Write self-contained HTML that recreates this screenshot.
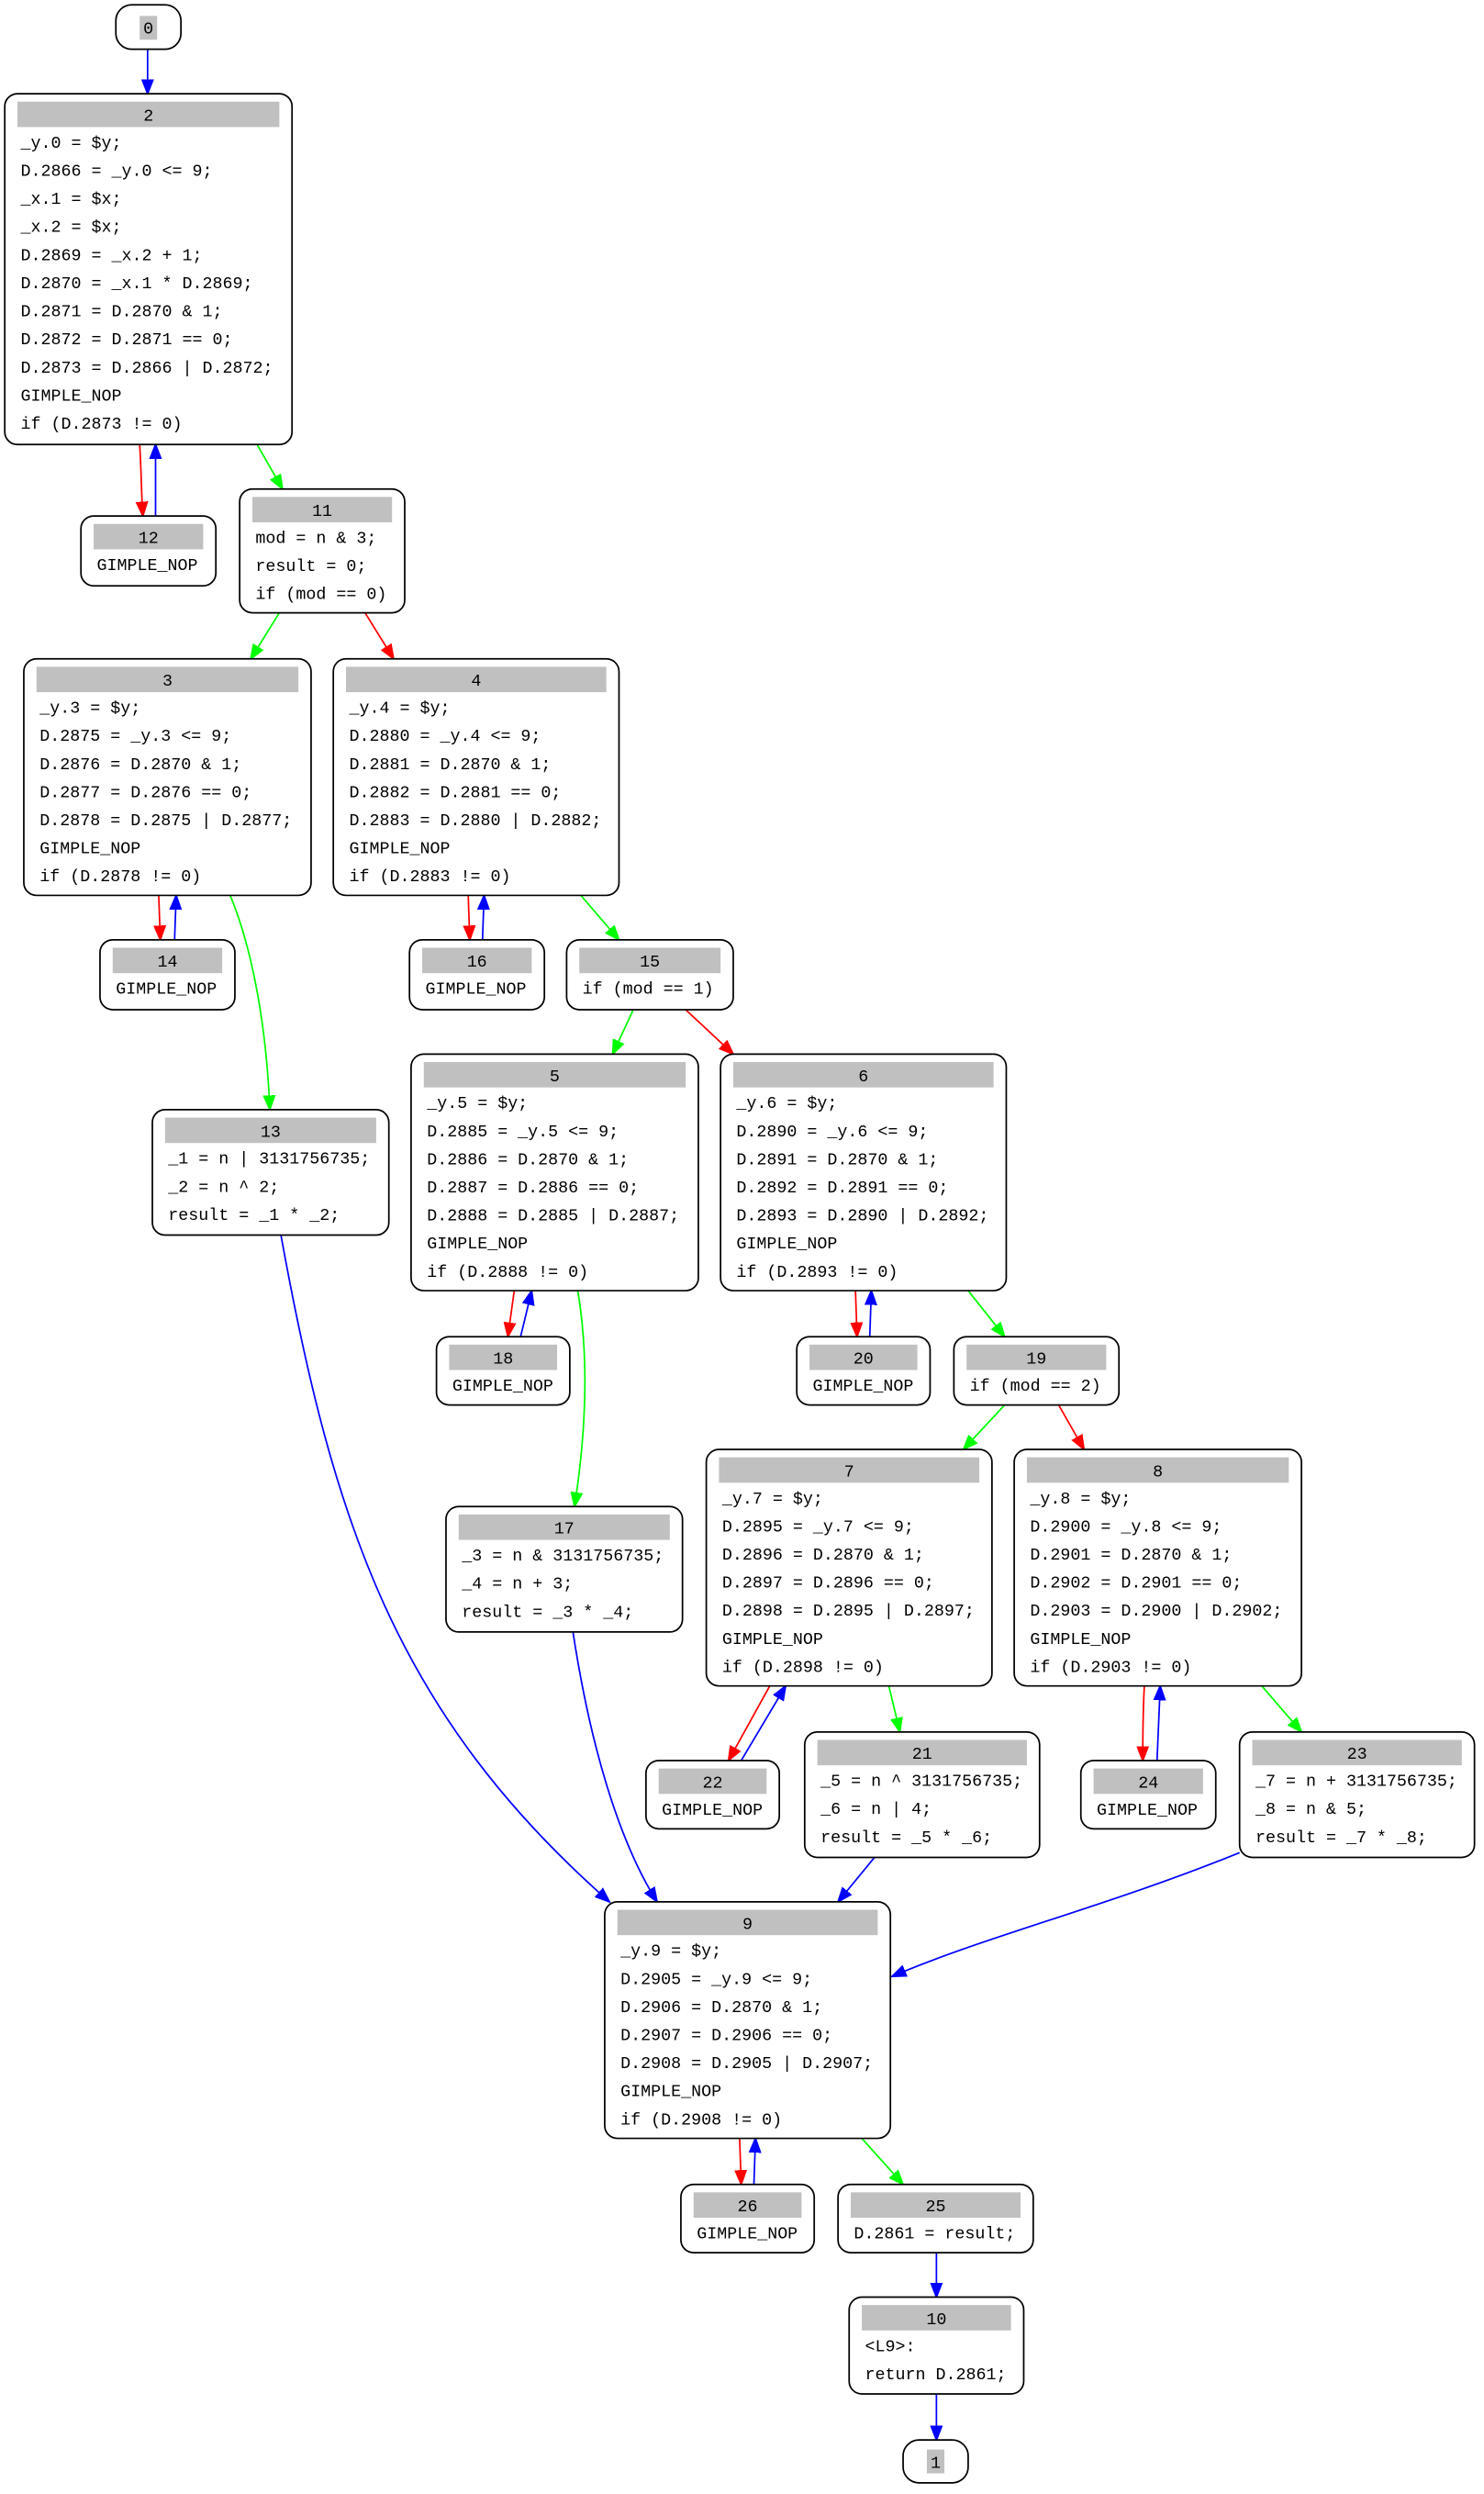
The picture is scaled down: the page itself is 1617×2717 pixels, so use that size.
<!DOCTYPE html>
<html><head><meta charset="utf-8"><style>
html,body{margin:0;padding:0;background:#fff;}
svg{display:block;}
text{font-family:"Liberation Mono",monospace;font-size:10.6px;fill:#000;}
.h{text-anchor:middle;}
rect.b{fill:#fff;stroke:#000;stroke-width:1;}
rect.g{fill:#c0c0c0;}
path{fill:none;stroke-width:1;}
</style></head><body>
<svg width="1617" height="2717" viewBox="0 0 935 1571" xmlns="http://www.w3.org/2000/svg">
<defs>
<marker id="ab" markerWidth="10" markerHeight="8" refX="9" refY="4" orient="auto" markerUnits="userSpaceOnUse"><path d="M0,0.5 L9,4 L0,7.5z" style="fill:#0000ff;stroke:#0000ff"/></marker>
<marker id="ar" markerWidth="10" markerHeight="8" refX="9" refY="4" orient="auto" markerUnits="userSpaceOnUse"><path d="M0,0.5 L9,4 L0,7.5z" style="fill:#ff0000;stroke:#ff0000"/></marker>
<marker id="ag" markerWidth="10" markerHeight="8" refX="9" refY="4" orient="auto" markerUnits="userSpaceOnUse"><path d="M0,0.5 L9,4 L0,7.5z" style="fill:#00ff00;stroke:#00ff00"/></marker>
</defs>

<!-- edges -->
<g>
<path d="M93,31 L93,59" stroke="#0000ff" marker-end="url(#ab)"/>
<path d="M88,280 C89,295 89,310 90,325" stroke="#ff0000" marker-end="url(#ar)"/>
<path d="M98,325 C98,310 98,295 98,280" stroke="#0000ff" marker-end="url(#ab)"/>
<path d="M162,280 L178,308" stroke="#00ff00" marker-end="url(#ag)"/>
<path d="M176,386 L158,415" stroke="#00ff00" marker-end="url(#ag)"/>
<path d="M230,386 L248,415" stroke="#ff0000" marker-end="url(#ar)"/>
<path d="M100,564 L101,592" stroke="#ff0000" marker-end="url(#ar)"/>
<path d="M110,592 L111,564" stroke="#0000ff" marker-end="url(#ab)"/>
<path d="M145,564 C160,600 168,650 170,699" stroke="#00ff00" marker-end="url(#ag)"/>
<path d="M295,564 L296,592" stroke="#ff0000" marker-end="url(#ar)"/>
<path d="M304,592 L305,564" stroke="#0000ff" marker-end="url(#ab)"/>
<path d="M366,564 L390,592" stroke="#00ff00" marker-end="url(#ag)"/>
<path d="M399,636 L386,664" stroke="#00ff00" marker-end="url(#ag)"/>
<path d="M432,636 L462,664" stroke="#ff0000" marker-end="url(#ar)"/>
<path d="M177,778 C210,960 250,1080 384,1198" stroke="#0000ff" marker-end="url(#ab)"/>
<path d="M324,813 L320,842" stroke="#ff0000" marker-end="url(#ar)"/>
<path d="M328,842 L335,813" stroke="#0000ff" marker-end="url(#ab)"/>
<path d="M364,813 C372,860 368,910 362,949" stroke="#00ff00" marker-end="url(#ag)"/>
<path d="M539,813 L540,842" stroke="#ff0000" marker-end="url(#ar)"/>
<path d="M548,842 L549,813" stroke="#0000ff" marker-end="url(#ab)"/>
<path d="M610,813 L633,842" stroke="#00ff00" marker-end="url(#ag)"/>
<path d="M633,885 L607,913" stroke="#00ff00" marker-end="url(#ag)"/>
<path d="M667,885 L683,913" stroke="#ff0000" marker-end="url(#ar)"/>
<path d="M361,1028 C372,1100 390,1160 414,1198" stroke="#0000ff" marker-end="url(#ab)"/>
<path d="M485,1062 L459,1109" stroke="#ff0000" marker-end="url(#ar)"/>
<path d="M467,1109 L495,1062" stroke="#0000ff" marker-end="url(#ab)"/>
<path d="M560,1062 L567,1091" stroke="#00ff00" marker-end="url(#ag)"/>
<path d="M721,1062 C720,1080 720,1095 720,1109" stroke="#ff0000" marker-end="url(#ar)"/>
<path d="M729,1109 L731,1062" stroke="#0000ff" marker-end="url(#ab)"/>
<path d="M795,1062 L820,1091" stroke="#00ff00" marker-end="url(#ag)"/>
<path d="M551,1170 L528,1198" stroke="#0000ff" marker-end="url(#ab)"/>
<path d="M781,1167 C700,1200 620,1220 562,1245" stroke="#0000ff" marker-end="url(#ab)"/>
<path d="M466,1347 L467,1376" stroke="#ff0000" marker-end="url(#ar)"/>
<path d="M475,1376 L476,1347" stroke="#0000ff" marker-end="url(#ab)"/>
<path d="M543,1347 L569,1376" stroke="#00ff00" marker-end="url(#ag)"/>
<path d="M590,1419 L590,1447" stroke="#0000ff" marker-end="url(#ab)"/>
<path d="M590,1508 L590,1537" stroke="#0000ff" marker-end="url(#ab)"/>
</g>

<!-- node 0 -->
<g transform="translate(73,3)"><rect class="b" x="0" y="0" width="41" height="28" rx="10"/><rect class="g" x="15" y="7" width="11" height="15"/><text class="h" x="20.5" y="18">0</text></g>
<!-- node 1 -->
<g transform="translate(569,1537)"><rect class="b" x="0" y="0" width="41" height="27" rx="10"/><rect class="g" x="15" y="6" width="11" height="15"/><text class="h" x="20.5" y="17.5">1</text></g>

<!-- node 2 -->
<g transform="translate(3,59)"><rect class="b" width="181" height="221" rx="8"/><rect class="g" x="8" y="5" width="165" height="16"/><text class="h" x="90.5" y="17">2</text>
<text x="10" y="34">_y.0 = $y;</text><text x="10" y="51.7">D.2866 = _y.0 &lt;= 9;</text><text x="10" y="69.4">_x.1 = $x;</text><text x="10" y="87.1">_x.2 = $x;</text><text x="10" y="104.8">D.2869 = _x.2 + 1;</text><text x="10" y="122.5">D.2870 = _x.1 * D.2869;</text><text x="10" y="140.2">D.2871 = D.2870 &amp; 1;</text><text x="10" y="157.9">D.2872 = D.2871 == 0;</text><text x="10" y="175.6">D.2873 = D.2866 | D.2872;</text><text x="10" y="193.3">GIMPLE_NOP</text><text x="10" y="211">if (D.2873 != 0)</text></g>

<!-- node 12 -->
<g transform="translate(51,325)"><rect class="b" width="85" height="44" rx="8"/><rect class="g" x="8" y="5" width="69" height="16"/><text class="h" x="42.5" y="17">12</text><text x="10" y="34">GIMPLE_NOP</text></g>
<!-- node 11 -->
<g transform="translate(151,308)"><rect class="b" width="104" height="78" rx="8"/><rect class="g" x="8" y="5" width="88" height="16"/><text class="h" x="52" y="17">11</text><text x="10" y="34">mod = n &amp; 3;</text><text x="10" y="51.7">result = 0;</text><text x="10" y="69.4">if (mod == 0)</text></g>

<!-- node 3 -->
<g transform="translate(15,415)"><rect class="b" width="181" height="149" rx="8"/><rect class="g" x="8" y="5" width="165" height="16"/><text class="h" x="90.5" y="17">3</text>
<text x="10" y="34">_y.3 = $y;</text><text x="10" y="51.7">D.2875 = _y.3 &lt;= 9;</text><text x="10" y="69.4">D.2876 = D.2870 &amp; 1;</text><text x="10" y="87.1">D.2877 = D.2876 == 0;</text><text x="10" y="104.8">D.2878 = D.2875 | D.2877;</text><text x="10" y="122.5">GIMPLE_NOP</text><text x="10" y="140.2">if (D.2878 != 0)</text></g>
<!-- node 4 -->
<g transform="translate(210,415)"><rect class="b" width="180" height="149" rx="8"/><rect class="g" x="8" y="5" width="164" height="16"/><text class="h" x="90" y="17">4</text>
<text x="10" y="34">_y.4 = $y;</text><text x="10" y="51.7">D.2880 = _y.4 &lt;= 9;</text><text x="10" y="69.4">D.2881 = D.2870 &amp; 1;</text><text x="10" y="87.1">D.2882 = D.2881 == 0;</text><text x="10" y="104.8">D.2883 = D.2880 | D.2882;</text><text x="10" y="122.5">GIMPLE_NOP</text><text x="10" y="140.2">if (D.2883 != 0)</text></g>

<!-- node 14 -->
<g transform="translate(63,592)"><rect class="b" width="85" height="44" rx="8"/><rect class="g" x="8" y="5" width="69" height="16"/><text class="h" x="42.5" y="17">14</text><text x="10" y="34">GIMPLE_NOP</text></g>
<!-- node 16 -->
<g transform="translate(258,592)"><rect class="b" width="85" height="44" rx="8"/><rect class="g" x="8" y="5" width="69" height="16"/><text class="h" x="42.5" y="17">16</text><text x="10" y="34">GIMPLE_NOP</text></g>
<!-- node 15 -->
<g transform="translate(357,592)"><rect class="b" width="105" height="44" rx="8"/><rect class="g" x="8" y="5" width="89" height="16"/><text class="h" x="52.5" y="17">15</text><text x="10" y="34">if (mod == 1)</text></g>

<!-- node 13 -->
<g transform="translate(96,699)"><rect class="b" width="149" height="79" rx="8"/><rect class="g" x="8" y="5" width="133" height="16"/><text class="h" x="74.5" y="17">13</text><text x="10" y="34">_1 = n | 3131756735;</text><text x="10" y="51.7">_2 = n ^ 2;</text><text x="10" y="69.4">result = _1 * _2;</text></g>

<!-- node 5 -->
<g transform="translate(259,664)"><rect class="b" width="181" height="149" rx="8"/><rect class="g" x="8" y="5" width="165" height="16"/><text class="h" x="90.5" y="17">5</text>
<text x="10" y="34">_y.5 = $y;</text><text x="10" y="51.7">D.2885 = _y.5 &lt;= 9;</text><text x="10" y="69.4">D.2886 = D.2870 &amp; 1;</text><text x="10" y="87.1">D.2887 = D.2886 == 0;</text><text x="10" y="104.8">D.2888 = D.2885 | D.2887;</text><text x="10" y="122.5">GIMPLE_NOP</text><text x="10" y="140.2">if (D.2888 != 0)</text></g>
<!-- node 6 -->
<g transform="translate(454,664)"><rect class="b" width="180" height="149" rx="8"/><rect class="g" x="8" y="5" width="164" height="16"/><text class="h" x="90" y="17">6</text>
<text x="10" y="34">_y.6 = $y;</text><text x="10" y="51.7">D.2890 = _y.6 &lt;= 9;</text><text x="10" y="69.4">D.2891 = D.2870 &amp; 1;</text><text x="10" y="87.1">D.2892 = D.2891 == 0;</text><text x="10" y="104.8">D.2893 = D.2890 | D.2892;</text><text x="10" y="122.5">GIMPLE_NOP</text><text x="10" y="140.2">if (D.2893 != 0)</text></g>

<!-- node 18 -->
<g transform="translate(275,842)"><rect class="b" width="84" height="43" rx="8"/><rect class="g" x="8" y="5" width="68" height="16"/><text class="h" x="42" y="17">18</text><text x="10" y="34">GIMPLE_NOP</text></g>
<!-- node 20 -->
<g transform="translate(502,842)"><rect class="b" width="84" height="43" rx="8"/><rect class="g" x="8" y="5" width="68" height="16"/><text class="h" x="42" y="17">20</text><text x="10" y="34">GIMPLE_NOP</text></g>
<!-- node 19 -->
<g transform="translate(601,842)"><rect class="b" width="104" height="43" rx="8"/><rect class="g" x="8" y="5" width="88" height="16"/><text class="h" x="52" y="17">19</text><text x="10" y="34">if (mod == 2)</text></g>

<!-- node 17 -->
<g transform="translate(281,949)"><rect class="b" width="149" height="79" rx="8"/><rect class="g" x="8" y="5" width="133" height="16"/><text class="h" x="74.5" y="17">17</text><text x="10" y="34">_3 = n &amp; 3131756735;</text><text x="10" y="51.7">_4 = n + 3;</text><text x="10" y="69.4">result = _3 * _4;</text></g>

<!-- node 7 -->
<g transform="translate(445,913)"><rect class="b" width="180" height="149" rx="8"/><rect class="g" x="8" y="5" width="164" height="16"/><text class="h" x="90" y="17">7</text>
<text x="10" y="34">_y.7 = $y;</text><text x="10" y="51.7">D.2895 = _y.7 &lt;= 9;</text><text x="10" y="69.4">D.2896 = D.2870 &amp; 1;</text><text x="10" y="87.1">D.2897 = D.2896 == 0;</text><text x="10" y="104.8">D.2898 = D.2895 | D.2897;</text><text x="10" y="122.5">GIMPLE_NOP</text><text x="10" y="140.2">if (D.2898 != 0)</text></g>
<!-- node 8 -->
<g transform="translate(639,913)"><rect class="b" width="181" height="149" rx="8"/><rect class="g" x="8" y="5" width="165" height="16"/><text class="h" x="90.5" y="17">8</text>
<text x="10" y="34">_y.8 = $y;</text><text x="10" y="51.7">D.2900 = _y.8 &lt;= 9;</text><text x="10" y="69.4">D.2901 = D.2870 &amp; 1;</text><text x="10" y="87.1">D.2902 = D.2901 == 0;</text><text x="10" y="104.8">D.2903 = D.2900 | D.2902;</text><text x="10" y="122.5">GIMPLE_NOP</text><text x="10" y="140.2">if (D.2903 != 0)</text></g>

<!-- node 22 -->
<g transform="translate(407,1109)"><rect class="b" width="84" height="43" rx="8"/><rect class="g" x="8" y="5" width="68" height="16"/><text class="h" x="42" y="17">22</text><text x="10" y="34">GIMPLE_NOP</text></g>
<!-- node 21 -->
<g transform="translate(507,1091)"><rect class="b" width="148" height="79" rx="8"/><rect class="g" x="8" y="5" width="132" height="16"/><text class="h" x="74" y="17">21</text><text x="10" y="34">_5 = n ^ 3131756735;</text><text x="10" y="51.7">_6 = n | 4;</text><text x="10" y="69.4">result = _5 * _6;</text></g>
<!-- node 24 -->
<g transform="translate(681,1109)"><rect class="b" width="85" height="43" rx="8"/><rect class="g" x="8" y="5" width="69" height="16"/><text class="h" x="42.5" y="17">24</text><text x="10" y="34">GIMPLE_NOP</text></g>
<!-- node 23 -->
<g transform="translate(781,1091)"><rect class="b" width="148" height="79" rx="8"/><rect class="g" x="8" y="5" width="132" height="16"/><text class="h" x="74" y="17">23</text><text x="10" y="34">_7 = n + 3131756735;</text><text x="10" y="51.7">_8 = n &amp; 5;</text><text x="10" y="69.4">result = _7 * _8;</text></g>

<!-- node 9 -->
<g transform="translate(381,1198)"><rect class="b" width="180" height="149" rx="8"/><rect class="g" x="8" y="5" width="164" height="16"/><text class="h" x="90" y="17">9</text>
<text x="10" y="34">_y.9 = $y;</text><text x="10" y="51.7">D.2905 = _y.9 &lt;= 9;</text><text x="10" y="69.4">D.2906 = D.2870 &amp; 1;</text><text x="10" y="87.1">D.2907 = D.2906 == 0;</text><text x="10" y="104.8">D.2908 = D.2905 | D.2907;</text><text x="10" y="122.5">GIMPLE_NOP</text><text x="10" y="140.2">if (D.2908 != 0)</text></g>

<!-- node 26 -->
<g transform="translate(429,1376)"><rect class="b" width="84" height="43" rx="8"/><rect class="g" x="8" y="5" width="68" height="16"/><text class="h" x="42" y="17">26</text><text x="10" y="34">GIMPLE_NOP</text></g>
<!-- node 25 -->
<g transform="translate(528,1376)"><rect class="b" width="123" height="43" rx="8"/><rect class="g" x="8" y="5" width="107" height="16"/><text class="h" x="61.5" y="17">25</text><text x="10" y="34">D.2861 = result;</text></g>
<!-- node 10 -->
<g transform="translate(535,1447)"><rect class="b" width="110" height="61" rx="8"/><rect class="g" x="8" y="5" width="94" height="16"/><text class="h" x="55" y="17">10</text><text x="10" y="34">&lt;L9&gt;:</text><text x="10" y="51.7">return D.2861;</text></g>
</svg>
</body></html>
